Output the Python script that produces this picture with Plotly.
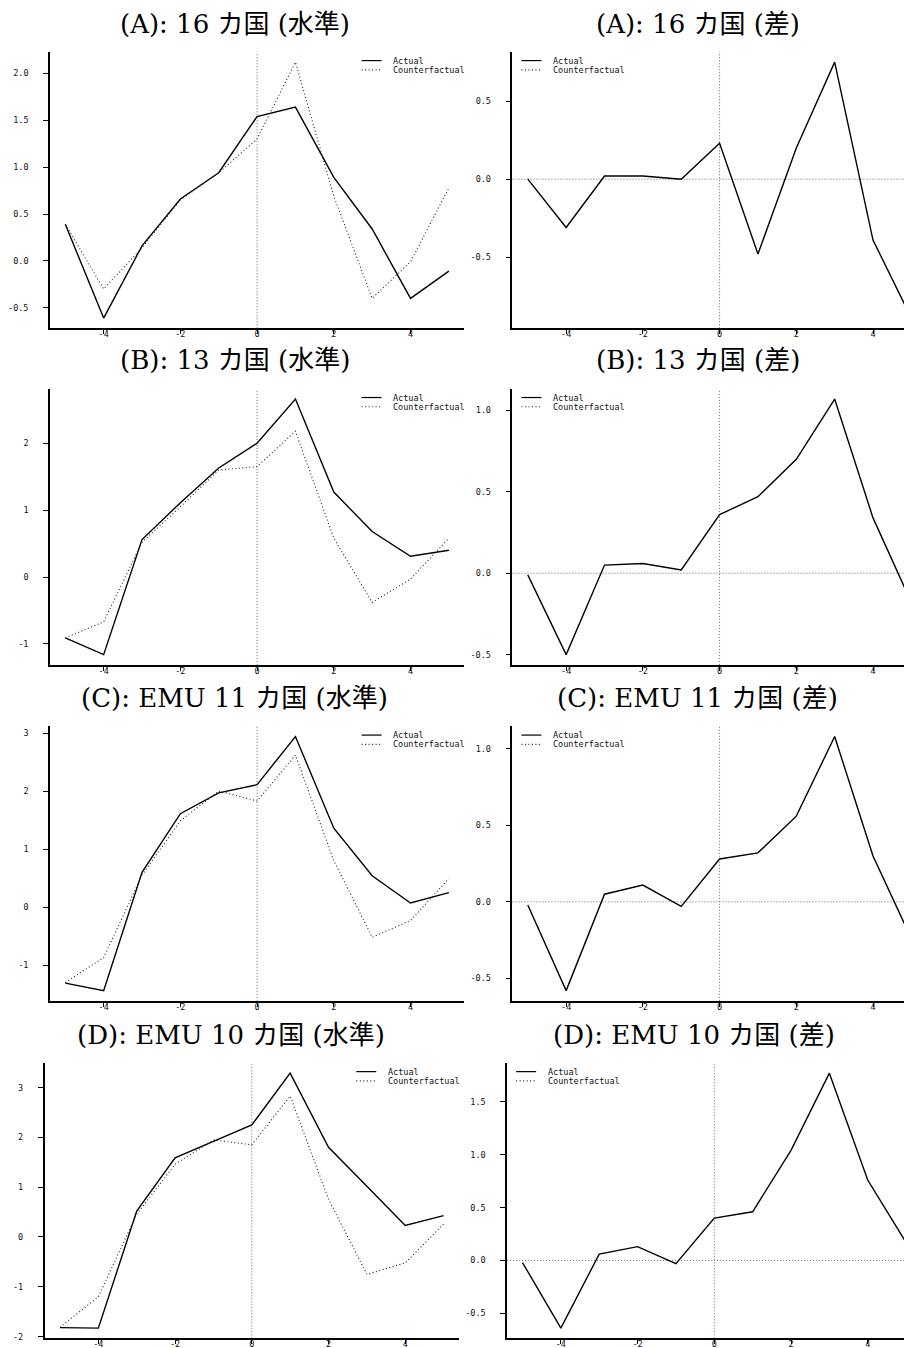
import plotly.graph_objects as go

# ---------------- data ----------------
periods = [-5, -4, -3, -2, -1, 0, 1, 2, 3, 4, 5]
x_tickvals = [-4, -2, 0, 2, 4]
x_ticktext = ["-4", "-2", "0", "2", "4"]

a_actual = [0.39, -0.61, 0.16, 0.66, 0.94, 1.54, 1.64, 0.89, 0.34, -0.40, -0.11]
a_cf = [0.39, -0.30, 0.14, 0.65, 0.94, 1.30, 2.12, 0.69, -0.40, -0.01, 0.78]
a_diff = [0.00, -0.31, 0.02, 0.02, 0.00, 0.23, -0.48, 0.20, 0.75, -0.39, -0.89]

b_actual = [-0.91, -1.16, 0.56, 1.11, 1.63, 2.00, 2.66, 1.27, 0.68, 0.31, 0.40]
b_cf = [-0.91, -0.67, 0.52, 1.05, 1.60, 1.65, 2.18, 0.58, -0.38, -0.03, 0.58]
b_diff = [-0.01, -0.50, 0.05, 0.06, 0.02, 0.36, 0.47, 0.70, 1.07, 0.34, -0.18]

c_actual = [-1.31, -1.44, 0.60, 1.61, 1.97, 2.11, 2.94, 1.36, 0.54, 0.07, 0.25]
c_cf = [-1.30, -0.87, 0.55, 1.49, 2.00, 1.83, 2.62, 0.80, -0.52, -0.23, 0.49]
c_diff = [-0.02, -0.58, 0.05, 0.11, -0.03, 0.28, 0.32, 0.56, 1.08, 0.30, -0.24]

d_actual = [-1.82, -1.83, 0.52, 1.59, 1.92, 2.25, 3.29, 1.80, 1.02, 0.23, 0.43]
d_cf = [-1.81, -1.20, 0.46, 1.46, 1.95, 1.85, 2.83, 0.76, -0.75, -0.52, 0.26]
d_diff = [-0.02, -0.64, 0.06, 0.13, -0.03, 0.40, 0.46, 1.04, 1.77, 0.76, 0.17]

titles_level = ["(A): 16 カ国 (水準)", "(B): 13 カ国 (水準)",
                "(C): EMU 11 カ国 (水準)", "(D): EMU 10 カ国 (水準)"]
titles_diff = ["(A): 16 カ国 (差)", "(B): 13 カ国 (差)",
               "(C): EMU 11 カ国 (差)", "(D): EMU 10 カ国 (差)"]

level_ticks = [[-0.5, 0.0, 0.5, 1.0, 1.5, 2.0], [-1, 0, 1, 2],
               [-1, 0, 1, 2, 3], [-2, -1, 0, 1, 2, 3]]
level_ticktext = [["-0.5", "0.0", "0.5", "1.0", "1.5", "2.0"], ["-1", "0", "1", "2"],
                  ["-1", "0", "1", "2", "3"], ["-2", "-1", "0", "1", "2", "3"]]
diff_ticks = [[-0.5, 0.0, 0.5], [-0.5, 0.0, 0.5, 1.0],
              [-0.5, 0.0, 0.5, 1.0], [-0.5, 0.0, 0.5, 1.0, 1.5]]
diff_ticktext = [["-0.5", "0.0", "0.5"], ["-0.5", "0.0", "0.5", "1.0"],
                 ["-0.5", "0.0", "0.5", "1.0"], ["-0.5", "0.0", "0.5", "1.0", "1.5"]]

actuals = [a_actual, b_actual, c_actual, d_actual]
cfs = [a_cf, b_cf, c_cf, d_cf]
diffs = [a_diff, b_diff, c_diff, d_diff]

# ---------------- layout geometry (pixels) ----------------
W, H = 912, 1348
row_top = [44, 381.7, 720, 1057.3]
row_bot = [321, 658.3, 995, 1333.3]
left_x0 = [41, 41, 41, 35.7]
left_x1 = [455, 455, 455, 450]
right_x0 = [504, 504, 504, 498.7]
right_x1 = [912, 912, 912, 912]
title_y = [16, 353, 691.3, 1029]
title_xl = [226, 226, 226, 222]
title_xr = [689.5, 689.5, 689.5, 685.5]
px_per_unit = 38.4

TICK_FONT = dict(family="DejaVu Sans Mono, Liberation Mono, monospace", size=8.5, color="#111")
TITLE_FONT = dict(family="DejaVu Serif, Liberation Serif, Noto Sans CJK JP, serif", size=26, color="#000")
DOT = "1px,2.5px"
REF_DOT = "1px,2px"


def fx(px):
    return px / W


def fy(py):
    return 1 - py / H


def rrange(vals):
    lo, hi = min(vals), max(vals)
    pad = 0.04 * (hi - lo)
    return [lo - pad, hi + pad]


fig = go.Figure()
layout = {}
shapes = []
annotations = []

n = 0
for r in range(4):
    for side in range(2):
        n += 1
        xa = "x" if n == 1 else f"x{n}"
        ya = "y" if n == 1 else f"y{n}"
        xkey = "xaxis" if n == 1 else f"xaxis{n}"
        ykey = "yaxis" if n == 1 else f"yaxis{n}"

        if side == 0:
            x0, x1 = left_x0[r], left_x1[r]
            xr = [-5.4, -5.4 + (x1 - x0) / px_per_unit]
            series = [(actuals[r], "Actual", "solid"), (cfs[r], "Counterfactual", DOT)]
            yr = rrange(actuals[r] + cfs[r])
            tv, tt = level_ticks[r], level_ticktext[r]
            title, tx = titles_level[r], title_xl[r]
            leg_line_x = x0 + 312
        else:
            x0, x1 = right_x0[r], right_x1[r]
            xr = [-5.4, -5.4 + (x1 - x0) / px_per_unit]
            series = [(diffs[r], "Actual", "solid")]
            yr = rrange(diffs[r])
            tv, tt = diff_ticks[r], diff_ticktext[r]
            title, tx = titles_diff[r], title_xr[r]
            leg_line_x = x0 + 9

        for ys, name, dash in series:
            fig.add_trace(go.Scatter(
                x=periods, y=ys, mode="lines", name=name, showlegend=False,
                line=dict(color="#000" if dash == "solid" else "#222",
                          width=1.4 if dash == "solid" else 1.1, dash=dash),
                xaxis=xa, yaxis=ya, hoverinfo="x+y+name"))

        layout[xkey] = dict(
            domain=[fx(x0), fx(x1)], range=xr, anchor=ya,
            showline=True, linecolor="#000", linewidth=1.5,
            ticks="outside", ticklen=4, tickwidth=1, tickcolor="#000",
            tickvals=x_tickvals, ticktext=x_ticktext, tickfont=TICK_FONT,
            ticklabelstandoff=-7,
            showgrid=False, zeroline=False, fixedrange=True)
        layout[ykey] = dict(
            domain=[fy(row_bot[r]), fy(row_top[r])], range=yr, anchor=xa,
            showline=True, linecolor="#000", linewidth=1.5,
            ticks="outside", ticklen=5, tickwidth=1, tickcolor="#000",
            tickvals=tv, ticktext=tt, tickfont=TICK_FONT,
            ticklabelstandoff=13,
            showgrid=False, zeroline=False, fixedrange=True)

        # reference lines (abline) : v=0 always, h=0 on difference panels
        shapes.append(dict(type="line", xref=xa, yref=f"{ya} domain", x0=0, x1=0, y0=0, y1=1,
                           line=dict(color="#666", width=1, dash=REF_DOT), layer="below"))
        if side == 1:
            shapes.append(dict(type="line", xref=f"{xa} domain", yref=ya, x0=0, x1=1, y0=0, y1=0,
                               line=dict(color="#666", width=1, dash=REF_DOT), layer="below"))

        # title
        annotations.append(dict(text=title, x=fx(tx), y=fy(title_y[r]), xref="paper", yref="paper",
                                xanchor="center", yanchor="middle", showarrow=False, font=TITLE_FONT))

        # legend (drawn in paper coordinates)
        ly1 = row_top[r] + 8.7
        ly2 = row_top[r] + 18
        shapes.append(dict(type="line", xref="paper", yref="paper",
                           x0=fx(leg_line_x), x1=fx(leg_line_x + 20), y0=fy(ly1), y1=fy(ly1),
                           line=dict(color="#000", width=1.2)))
        shapes.append(dict(type="line", xref="paper", yref="paper",
                           x0=fx(leg_line_x), x1=fx(leg_line_x + 20), y0=fy(ly2), y1=fy(ly2),
                           line=dict(color="#222", width=1.1, dash=DOT)))
        for txt, ly in (("Actual", ly1), ("Counterfactual", ly2)):
            annotations.append(dict(text=txt, x=fx(leg_line_x + 29.7), y=fy(ly), xref="paper", yref="paper",
                                    xanchor="left", yanchor="middle", showarrow=False, font=TICK_FONT))

fig.update_layout(
    width=W, height=H,
    margin=dict(l=0, r=0, t=0, b=0),
    paper_bgcolor="white", plot_bgcolor="white",
    showlegend=False,
    shapes=shapes, annotations=annotations,
    **layout)

fig.write_html("out.html")
